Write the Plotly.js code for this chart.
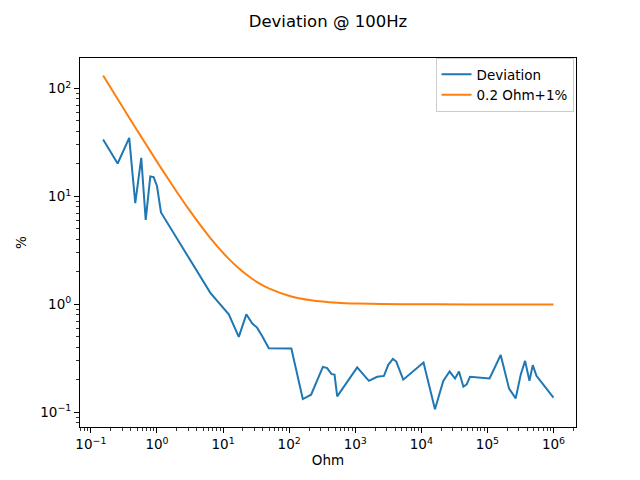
<!DOCTYPE html>
<html>
<head>
<meta charset="utf-8">
<script src="https://cdn.plot.ly/plotly-3.0.1.min.js"></script>
<style>html,body{margin:0;padding:0;background:#fff}#chart{width:640px;height:480px}</style>
</head>
<body>
<div id="chart"></div>
<script>
const devOhm = [0.153, 0.254, 0.38, 0.469, 0.578, 0.675, 0.792, 0.89, 1.0, 1.15, 6.42, 12.2, 17.3, 22.5, 27.5, 32.7, 39, 49.2, 108, 161, 215, 324, 376, 438, 486, 534, 1070, 1610, 2150, 2720, 3160, 3720, 4180, 5330, 10800, 16100, 21500, 26800, 32400, 37200, 43300, 48600, 54600, 108000, 159000, 213000, 268000, 320000, 372000, 433000, 486000, 553000, 1000000];
const devPct = [33.7, 20.2, 34.8, 8.65, 22.8, 6.07, 15.3, 15.1, 12.5, 7.1, 1.28, 0.81, 0.50, 0.81, 0.668, 0.61, 0.51, 0.393, 0.391, 0.133, 0.146, 0.264, 0.257, 0.226, 0.224, 0.141, 0.261, 0.196, 0.214, 0.218, 0.276, 0.313, 0.296, 0.201, 0.29, 0.107, 0.196, 0.239, 0.206, 0.239, 0.173, 0.182, 0.214, 0.206, 0.34, 0.166, 0.135, 0.225, 0.30, 0.196, 0.274, 0.218, 0.137];
const limOhm = [0.153, 0.254, 0.38, 0.578, 0.792, 1.0, 1.15, 2.0, 3.0, 6.42, 12.2, 17.3, 22.5, 32.7, 49.2, 108, 215, 534, 1070, 5330, 54600, 1000000];
const limPct = [131.7, 79.7, 53.6, 35.6, 26.3, 21.0, 18.4, 11.0, 7.67, 4.12, 2.64, 2.16, 1.89, 1.61, 1.41, 1.185, 1.093, 1.037, 1.019, 1.004, 1.0004, 1.0];
const xTickVals = [0.1, 1, 10, 100, 1000, 10000, 100000, 1000000];
const xTickText = ['10<sup>−1</sup>', '10<sup>0</sup>', '10<sup>1</sup>', '10<sup>2</sup>', '10<sup>3</sup>', '10<sup>4</sup>', '10<sup>5</sup>', '10<sup>6</sup>'];
const yTickVals = [0.1, 1, 10, 100];
const yTickText = ['10<sup>−1</sup>', '10<sup>0</sup>', '10<sup>1</sup>', '10<sup>2</sup>'];

function minorTicks(lo, hi) {
  const out = [];
  for (let e = lo; e <= hi; e++) {
    for (let d = 2; d <= 9; d++) out.push(d * Math.pow(10, e));
  }
  return out;
}

const font = {family: 'DejaVu Sans', size: 13.5, color: '#000'};
const XR = [-1.165, 6.341], YR = [-1.135, 2.282];
const base = {
  type: 'log', showgrid: false, zeroline: false,
  ticks: 'outside', tickwidth: 1, tickcolor: '#000', tickfont: font
};
const data = [
  {x: devOhm, y: devPct, type: 'scatter', mode: 'lines', name: 'Deviation',
   line: {color: '#1f77b4', width: 2}},
  {x: limOhm, y: limPct, type: 'scatter', mode: 'lines', name: '0.2 Ohm+1%',
   line: {color: '#ff7f0e', width: 2, shape: 'spline', smoothing: 0.6}},
  {x: devOhm, y: devPct, type: 'scatter', mode: 'lines', xaxis: 'x2', yaxis: 'y2',
   showlegend: false, hoverinfo: 'skip', line: {width: 0, color: 'rgba(0,0,0,0)'}}
];
const layout = {
  width: 640, height: 480,
  margin: {l: 80, r: 64, t: 58, b: 53},
  paper_bgcolor: '#fff', plot_bgcolor: '#fff',
  font: font,
  title: {text: 'Deviation @ 100Hz', font: {family: 'DejaVu Sans', size: 16.5, color: '#000'},
          x: 0.5, xref: 'paper', y: 0.955, yanchor: 'middle'},
  xaxis: Object.assign({}, base, {range: XR, tickvals: xTickVals, ticktext: xTickText, ticklen: 5,
          showline: true, linecolor: '#000', linewidth: 1, mirror: true,
          title: {text: 'Ohm', font: font, standoff: 4}}),
  yaxis: Object.assign({}, base, {range: YR, tickvals: yTickVals, ticktext: yTickText, ticklen: 5,
          showline: true, linecolor: '#000', linewidth: 1, mirror: true,
          title: {text: '%', font: font, standoff: 10}}),
  xaxis2: Object.assign({}, base, {range: XR, overlaying: 'x', anchor: 'y', side: 'bottom',
          tickvals: minorTicks(-2, 6), showticklabels: false, ticklen: 3, tickwidth: 0.8, showline: false}),
  yaxis2: Object.assign({}, base, {range: YR, overlaying: 'y', anchor: 'x', side: 'left',
          tickvals: minorTicks(-2, 2), showticklabels: false, ticklen: 3, tickwidth: 0.8, showline: false}),
  legend: {x: 0.995, xanchor: 'right', y: 1.0, yanchor: 'top',
           bgcolor: 'rgba(255,255,255,0.8)', bordercolor: '#ccc', borderwidth: 1,
           font: font, tracegroupgap: 0},
  showlegend: true
};
Plotly.newPlot('chart', data, layout, {staticPlot: true, displayModeBar: false});
</script>
</body>
</html>
